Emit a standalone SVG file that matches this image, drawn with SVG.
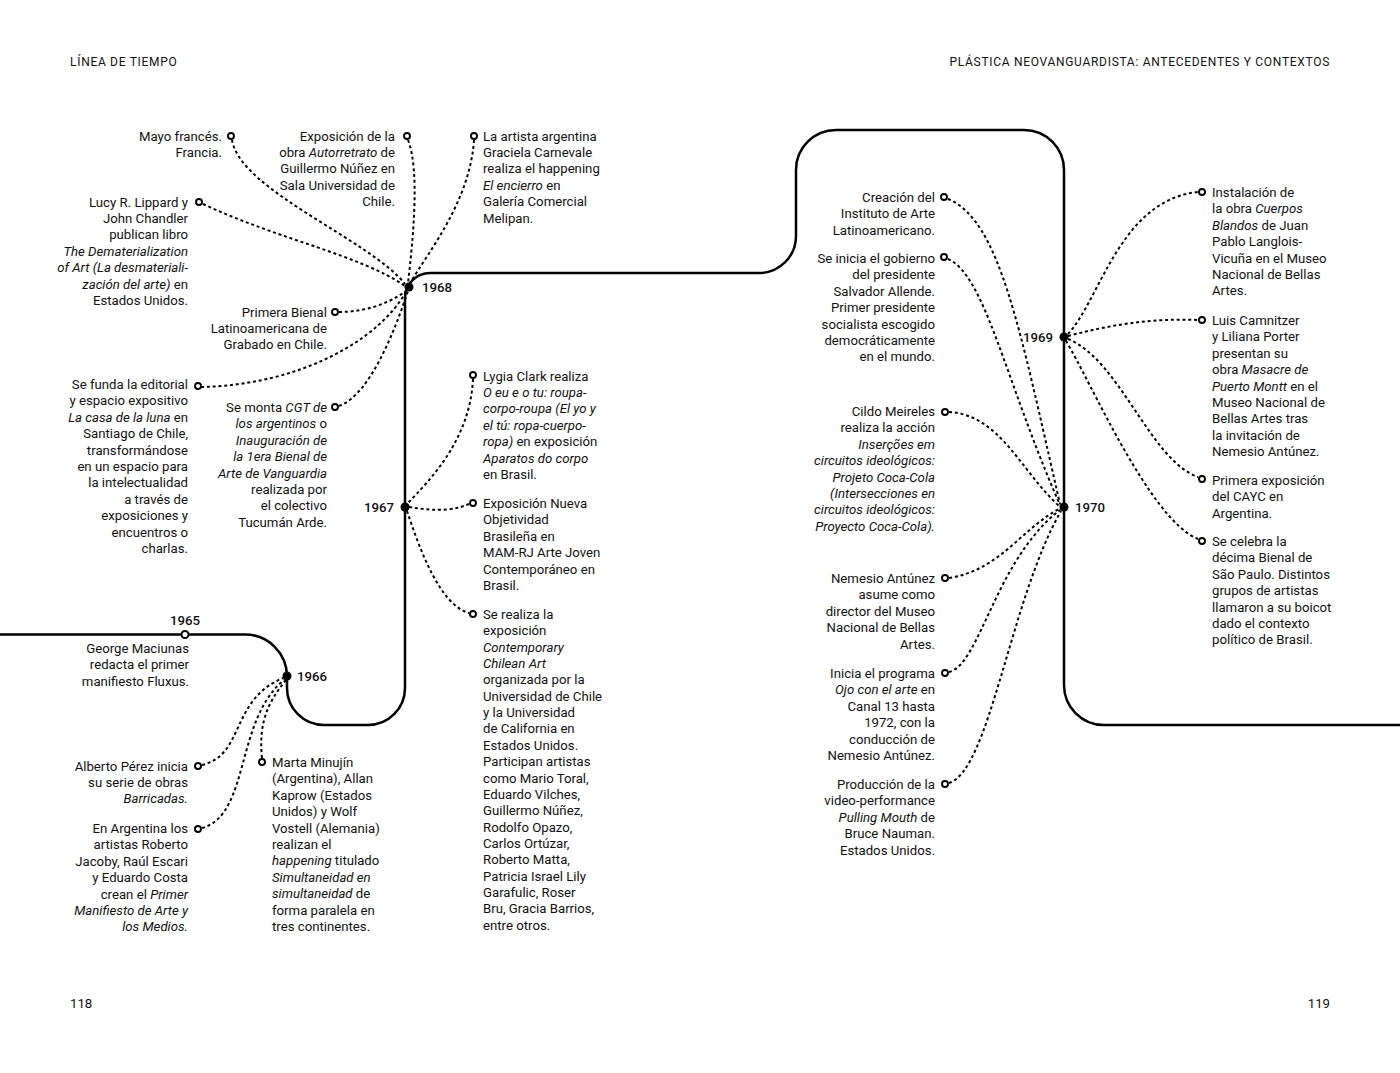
<svg xmlns="http://www.w3.org/2000/svg" width="1400" height="1073" viewBox="0 0 1400 1073">
<style>
text{font-family:Roboto,"Liberation Sans",sans-serif;font-size:13.2px;fill:#111}
.r{text-anchor:end}
.i{font-style:italic}
.yr{font-weight:500}
.hd{font-size:12px;letter-spacing:0.7px}
.tl{fill:none;stroke:#000;stroke-width:2.5}
.c{fill:none;stroke:#000;stroke-width:2;stroke-dasharray:3 2.8}
.o{fill:#fff;stroke:#000;stroke-width:1.9}
.d{fill:#000}
</style>
<rect width="1400" height="1073" fill="#fff"/>
<g id="header">
<text class="hd" x="70" y="66">LÍNEA DE TIEMPO</text>
<text class="hd r" x="1330" y="66">PLÁSTICA NEOVANGUARDISTA: ANTECEDENTES Y CONTEXTOS</text>
<text x="70" y="1008">118</text>
<text class="r" x="1330" y="1008">119</text>
</g>
<g id="timeline">
<path class="tl" d="M0,634.5 H245 A42,42 0 0 1 287,676.5 V688 A37,37 0 0 0 324,725 H368 A37,37 0 0 0 405,688 V298 A25,25 0 0 1 430,273 H759 A37,37 0 0 0 796,236 V170 A40,40 0 0 1 836,130 H1024 A40,40 0 0 1 1064,170 V685 A40,40 0 0 0 1104,725 H1400"/>
</g>
<g id="connectors">
<path class="c" d="M232,140 C240,190 370,240 405,284"/>
<path class="c" d="M408,140 C420,170 413,240 408,283"/>
<path class="c" d="M474,140 C470,200 430,250 410,283"/>
<path class="c" d="M203,204 C280,240 360,255 405,286"/>
<path class="c" d="M339,312 C370,312 395,300 407,290"/>
<path class="c" d="M201,387 C300,385 380,340 407,290"/>
<path class="c" d="M339,406 C370,395 395,330 408,291"/>
<path class="c" d="M473,379 C470,440 430,480 407,504"/>
<path class="c" d="M409,507 C440,512 455,510 469,504"/>
<path class="c" d="M407,511 C420,550 440,605 469,613"/>
<path class="c" d="M202,765 C245,755 230,700 283,678"/>
<path class="c" d="M202,828 C250,815 235,720 284,680"/>
<path class="c" d="M262,758 C258,720 270,700 286,680"/>
<path class="c" d="M948,199 C1000,220 1020,330 1060,504"/>
<path class="c" d="M948,259 C985,275 1005,380 1060,505"/>
<path class="c" d="M949,412 C1000,415 1020,470 1059,506"/>
<path class="c" d="M949,578 C1000,570 1020,530 1059,509"/>
<path class="c" d="M949,672 C980,665 995,560 1060,510"/>
<path class="c" d="M949,783 C990,770 1010,600 1061,511"/>
<path class="c" d="M1068,334 C1100,300 1120,200 1198,192"/>
<path class="c" d="M1068,336 C1110,325 1150,318 1198,320"/>
<path class="c" d="M1068,339 C1120,360 1150,460 1198,477"/>
<path class="c" d="M1066,341 C1090,380 1150,520 1198,539"/>
</g>
<g id="y1965"><circle class="o" cx="185" cy="634.5" r="3.5"/><text class="yr" x="185" y="625" text-anchor="middle">1965</text></g>
<g id="y1966"><circle class="d" cx="287" cy="676" r="4.5"/><text class="yr" x="297" y="681">1966</text></g>
<g id="y1967"><circle class="d" cx="405" cy="507" r="4.5"/><text class="yr r" x="394" y="512">1967</text></g>
<g id="y1968"><circle class="d" cx="409" cy="287" r="4.5"/><text class="yr" x="422" y="292">1968</text></g>
<g id="y1969"><circle class="d" cx="1064" cy="337" r="4.5"/><text class="yr r" x="1053" y="342">1969</text></g>
<g id="y1970"><circle class="d" cx="1064" cy="507" r="4.5"/><text class="yr" x="1075" y="512">1970</text></g>

<g id="n-mayo"><circle class="o" cx="231" cy="136" r="3"/>
<text class="r"><tspan x="222" y="140.5">Mayo francés.</tspan><tspan x="222" dy="16.4">Francia.</tspan></text></g>
<g id="n-autorretrato"><circle class="o" cx="407" cy="136" r="3"/>
<text class="r"><tspan x="395" y="140.5">Exposición de la</tspan><tspan x="395" dy="16.4">obra <tspan class="i">Autorretrato</tspan> de</tspan><tspan x="395" dy="16.4">Guillermo Núñez en</tspan><tspan x="395" dy="16.4">Sala Universidad de</tspan><tspan x="395" dy="16.4">Chile.</tspan></text></g>
<g id="n-carnevale"><circle class="o" cx="474" cy="136" r="3"/>
<text><tspan x="483" y="140.5">La artista argentina</tspan><tspan x="483" dy="16.4">Graciela Carnevale</tspan><tspan x="483" dy="16.4">realiza el happening</tspan><tspan x="483" dy="16.4"><tspan class="i">El encierro</tspan> en</tspan><tspan x="483" dy="16.4">Galería Comercial</tspan><tspan x="483" dy="16.4">Melipan.</tspan></text></g>
<g id="n-lippard"><circle class="o" cx="199" cy="202" r="3"/>
<text class="r"><tspan x="188" y="206.5">Lucy R. Lippard y</tspan><tspan x="188" dy="16.4">John Chandler</tspan><tspan x="188" dy="16.4">publican libro</tspan><tspan x="188" dy="16.4" class="i">The Dematerialization</tspan><tspan x="188" dy="16.4" class="i">of Art (La desmateriali-</tspan><tspan x="188" dy="16.4"><tspan class="i">zación del arte)</tspan> en</tspan><tspan x="188" dy="16.4">Estados Unidos.</tspan></text></g>
<g id="n-bienal-grabado"><circle class="o" cx="335" cy="312" r="3"/>
<text class="r"><tspan x="327" y="316.5">Primera Bienal</tspan><tspan x="327" dy="16.4">Latinoamericana de</tspan><tspan x="327" dy="16.4">Grabado en Chile.</tspan></text></g>
<g id="n-casa-luna"><circle class="o" cx="198" cy="386" r="3"/>
<text class="r"><tspan x="188" y="389">Se funda la editorial</tspan><tspan x="188" dy="16.4">y espacio expositivo</tspan><tspan x="188" dy="16.4"><tspan class="i">La casa de la luna</tspan> en</tspan><tspan x="188" dy="16.4">Santiago de Chile,</tspan><tspan x="188" dy="16.4">transformándose</tspan><tspan x="188" dy="16.4">en un espacio para</tspan><tspan x="188" dy="16.4">la intelectualidad</tspan><tspan x="188" dy="16.4">a través de</tspan><tspan x="188" dy="16.4">exposiciones y</tspan><tspan x="188" dy="16.4">encuentros o</tspan><tspan x="188" dy="16.4">charlas.</tspan></text></g>
<g id="n-tucuman"><circle class="o" cx="335" cy="407" r="3"/>
<text class="r"><tspan x="327" y="412">Se monta <tspan class="i">CGT de</tspan></tspan><tspan x="327" dy="16.4"><tspan class="i">los argentinos</tspan> o</tspan><tspan x="327" dy="16.4" class="i">Inauguración de</tspan><tspan x="327" dy="16.4" class="i">la 1era Bienal de</tspan><tspan x="327" dy="16.4" class="i">Arte de Vanguardia</tspan><tspan x="327" dy="16.4">realizada por</tspan><tspan x="327" dy="16.4">el colectivo</tspan><tspan x="327" dy="16.4">Tucumán Arde.</tspan></text></g>
<g id="n-lygia"><circle class="o" cx="473" cy="375" r="3"/>
<text><tspan x="483" y="380.5">Lygia Clark realiza</tspan><tspan x="483" dy="16.4" class="i">O eu e o tu: roupa-</tspan><tspan x="483" dy="16.4" class="i">corpo-roupa (El yo y</tspan><tspan x="483" dy="16.4" class="i">el tú: ropa-cuerpo-</tspan><tspan x="483" dy="16.4"><tspan class="i">ropa)</tspan> en exposición</tspan><tspan x="483" dy="16.4" class="i">Aparatos do corpo</tspan><tspan x="483" dy="16.4">en Brasil.</tspan></text></g>
<g id="n-nueva-objetividad"><circle class="o" cx="473" cy="503" r="3"/>
<text><tspan x="483" y="508">Exposición Nueva</tspan><tspan x="483" dy="16.4">Objetividad</tspan><tspan x="483" dy="16.4">Brasileña en</tspan><tspan x="483" dy="16.4">MAM-RJ Arte Joven</tspan><tspan x="483" dy="16.4">Contemporáneo en</tspan><tspan x="483" dy="16.4">Brasil.</tspan></text></g>
<g id="n-chilean-art"><circle class="o" cx="473" cy="614" r="3"/>
<text><tspan x="483" y="619">Se realiza la</tspan><tspan x="483" dy="16.35">exposición</tspan><tspan x="483" dy="16.35" class="i">Contemporary</tspan><tspan x="483" dy="16.35" class="i">Chilean Art</tspan><tspan x="483" dy="16.35">organizada por la</tspan><tspan x="483" dy="16.35">Universidad de Chile</tspan><tspan x="483" dy="16.35">y la Universidad</tspan><tspan x="483" dy="16.35">de California en</tspan><tspan x="483" dy="16.35">Estados Unidos.</tspan><tspan x="483" dy="16.35">Participan artistas</tspan><tspan x="483" dy="16.35">como Mario Toral,</tspan><tspan x="483" dy="16.35">Eduardo Vilches,</tspan><tspan x="483" dy="16.35">Guillermo Núñez,</tspan><tspan x="483" dy="16.35">Rodolfo Opazo,</tspan><tspan x="483" dy="16.35">Carlos Ortúzar,</tspan><tspan x="483" dy="16.35">Roberto Matta,</tspan><tspan x="483" dy="16.35">Patricia Israel Lily</tspan><tspan x="483" dy="16.35">Garafulic, Roser</tspan><tspan x="483" dy="16.35">Bru, Gracia Barrios,</tspan><tspan x="483" dy="16.35">entre otros.</tspan></text></g>
<g id="n-fluxus">
<text class="r"><tspan x="189" y="653">George Maciunas</tspan><tspan x="189" dy="16.4">redacta el primer</tspan><tspan x="189" dy="16.4">manifiesto Fluxus.</tspan></text></g>
<g id="n-barricadas"><circle class="o" cx="198" cy="766" r="3"/>
<text class="r"><tspan x="188" y="770.5">Alberto Pérez inicia</tspan><tspan x="188" dy="16.4">su serie de obras</tspan><tspan x="188" dy="16.4" class="i">Barricadas.</tspan></text></g>
<g id="n-manifiesto"><circle class="o" cx="198" cy="829" r="3"/>
<text class="r"><tspan x="188" y="833">En Argentina los</tspan><tspan x="188" dy="16.4">artistas Roberto</tspan><tspan x="188" dy="16.4">Jacoby, Raúl Escari</tspan><tspan x="188" dy="16.4">y Eduardo Costa</tspan><tspan x="188" dy="16.4">crean el <tspan class="i">Primer</tspan></tspan><tspan x="188" dy="16.4" class="i">Manifiesto de Arte y</tspan><tspan x="188" dy="16.4" class="i">los Medios.</tspan></text></g>
<g id="n-minujin"><circle class="o" cx="262" cy="762" r="3"/>
<text><tspan x="272" y="767">Marta Minujín</tspan><tspan x="272" dy="16.4">(Argentina), Allan</tspan><tspan x="272" dy="16.4">Kaprow (Estados</tspan><tspan x="272" dy="16.4">Unidos) y Wolf</tspan><tspan x="272" dy="16.4">Vostell (Alemania)</tspan><tspan x="272" dy="16.4">realizan el</tspan><tspan x="272" dy="16.4"><tspan class="i">happening</tspan> titulado</tspan><tspan x="272" dy="16.4" class="i">Simultaneidad en</tspan><tspan x="272" dy="16.4"><tspan class="i">simultaneidad</tspan> de</tspan><tspan x="272" dy="16.4">forma paralela en</tspan><tspan x="272" dy="16.4">tres continentes.</tspan></text></g>

<g id="n-instituto"><circle class="o" cx="944" cy="197" r="3"/>
<text class="r"><tspan x="935" y="202">Creación del</tspan><tspan x="935" dy="16.4">Instituto de Arte</tspan><tspan x="935" dy="16.4">Latinoamericano.</tspan></text></g>
<g id="n-allende"><circle class="o" cx="944" cy="257" r="3"/>
<text class="r"><tspan x="935" y="263">Se inicia el gobierno</tspan><tspan x="935" dy="16.4">del presidente</tspan><tspan x="935" dy="16.4">Salvador Allende.</tspan><tspan x="935" dy="16.4">Primer presidente</tspan><tspan x="935" dy="16.4">socialista escogido</tspan><tspan x="935" dy="16.4">democráticamente</tspan><tspan x="935" dy="16.4">en el mundo.</tspan></text></g>
<g id="n-meireles"><circle class="o" cx="945" cy="412" r="3"/>
<text class="r"><tspan x="935" y="416">Cildo Meireles</tspan><tspan x="935" dy="16.4">realiza la acción</tspan><tspan x="935" dy="16.4" class="i">Inserções em</tspan><tspan x="935" dy="16.4" class="i">circuitos ideológicos:</tspan><tspan x="935" dy="16.4" class="i">Projeto Coca-Cola</tspan><tspan x="935" dy="16.4" class="i">(Intersecciones en</tspan><tspan x="935" dy="16.4" class="i">circuitos ideológicos:</tspan><tspan x="935" dy="16.4" class="i">Proyecto Coca-Cola).</tspan></text></g>
<g id="n-antunez"><circle class="o" cx="945" cy="578" r="3"/>
<text class="r"><tspan x="935" y="583">Nemesio Antúnez</tspan><tspan x="935" dy="16.4">asume como</tspan><tspan x="935" dy="16.4">director del Museo</tspan><tspan x="935" dy="16.4">Nacional de Bellas</tspan><tspan x="935" dy="16.4">Artes.</tspan></text></g>
<g id="n-ojo"><circle class="o" cx="945" cy="673" r="3"/>
<text class="r"><tspan x="935" y="678">Inicia el programa</tspan><tspan x="935" dy="16.4"><tspan class="i">Ojo con el arte</tspan> en</tspan><tspan x="935" dy="16.4">Canal 13 hasta</tspan><tspan x="935" dy="16.4">1972, con la</tspan><tspan x="935" dy="16.4">conducción de</tspan><tspan x="935" dy="16.4">Nemesio Antúnez.</tspan></text></g>
<g id="n-nauman"><circle class="o" cx="945" cy="784" r="3"/>
<text class="r"><tspan x="935" y="789">Producción de la</tspan><tspan x="935" dy="16.4">video-performance</tspan><tspan x="935" dy="16.4"><tspan class="i">Pulling Mouth</tspan> de</tspan><tspan x="935" dy="16.4">Bruce Nauman.</tspan><tspan x="935" dy="16.4">Estados Unidos.</tspan></text></g>
<g id="n-cuerpos"><circle class="o" cx="1202" cy="192" r="3"/>
<text><tspan x="1212" y="197">Instalación de</tspan><tspan x="1212" dy="16.4">la obra <tspan class="i">Cuerpos</tspan></tspan><tspan x="1212" dy="16.4"><tspan class="i">Blandos</tspan> de Juan</tspan><tspan x="1212" dy="16.4">Pablo Langlois-</tspan><tspan x="1212" dy="16.4">Vicuña en el Museo</tspan><tspan x="1212" dy="16.4">Nacional de Bellas</tspan><tspan x="1212" dy="16.4">Artes.</tspan></text></g>
<g id="n-camnitzer"><circle class="o" cx="1202" cy="320" r="3"/>
<text><tspan x="1212" y="325">Luis Camnitzer</tspan><tspan x="1212" dy="16.4">y Liliana Porter</tspan><tspan x="1212" dy="16.4">presentan su</tspan><tspan x="1212" dy="16.4">obra <tspan class="i">Masacre de</tspan></tspan><tspan x="1212" dy="16.4"><tspan class="i">Puerto Montt</tspan> en el</tspan><tspan x="1212" dy="16.4">Museo Nacional de</tspan><tspan x="1212" dy="16.4">Bellas Artes tras</tspan><tspan x="1212" dy="16.4">la invitación de</tspan><tspan x="1212" dy="16.4">Nemesio Antúnez.</tspan></text></g>
<g id="n-cayc"><circle class="o" cx="1202" cy="479" r="3"/>
<text><tspan x="1212" y="485">Primera exposición</tspan><tspan x="1212" dy="16.4">del CAYC en</tspan><tspan x="1212" dy="16.4">Argentina.</tspan></text></g>
<g id="n-saopaulo"><circle class="o" cx="1202" cy="541" r="3"/>
<text><tspan x="1212" y="546">Se celebra la</tspan><tspan x="1212" dy="16.4">décima Bienal de</tspan><tspan x="1212" dy="16.4">São Paulo. Distintos</tspan><tspan x="1212" dy="16.4">grupos de artistas</tspan><tspan x="1212" dy="16.4">llamaron a su boicot</tspan><tspan x="1212" dy="16.4">dado el contexto</tspan><tspan x="1212" dy="16.4">político de Brasil.</tspan></text></g>
</svg>
